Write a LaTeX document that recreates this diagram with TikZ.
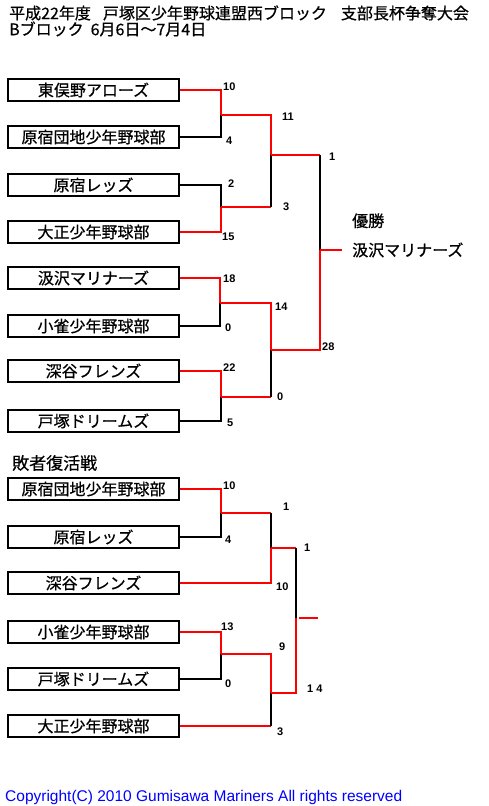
\documentclass[tikz,border=0pt]{standalone}
\usepackage{fontspec}
\usepackage{xcolor}
\setmainfont{Liberation Sans}
\newfontfamily\jpfont[FakeBold=0.6]{Noto Sans CJK JP}
\usetikzlibrary{positioning}

\tikzset{
  team/.style={draw, line width=1.6pt, minimum width=171pt, minimum height=22pt,
    inner sep=0pt, font=\jpfont\fontsize{16}{16}\selectfont},
  win/.style={draw=red, line width=1.8pt},
  lose/.style={draw=black, line width=1.8pt},
  score/.style={anchor=west, inner sep=0pt, font=\bfseries\fontsize{11}{11}\selectfont},
  heading/.style={anchor=west, inner sep=0pt, font=\jpfont\fontsize{16}{16}\selectfont},
}

\begin{document}
\begin{tikzpicture}[x=1pt, y=-1pt]
        \useasboundingbox (0,0) rectangle (489,806);
        \node[heading] (title) at (9,13) {平成22年度\hspace{12pt}戸塚区少年野球連盟西ブロック\hspace{14pt}支部長杯争奪大会};
        \node[heading] (dates) at (9,29) {Bブロック\hspace{7pt}6月6日～7月4日};
%
        \node[team] (A1) at (93.5,90) {東俣野アローズ};
        \node[team] (A2) at (93.5,137) {原宿団地少年野球部};
        \node[team] (A3) at (93.5,185) {原宿レッズ};
        \node[team] (A4) at (93.5,232) {大正少年野球部};
        \node[team] (A5) at (93.5,278) {汲沢マリナーズ};
        \node[team] (A6) at (93.5,326) {小雀少年野球部};
        \node[team] (A7) at (93.5,371) {深谷フレンズ};
        \node[team] (A8) at (93.5,421) {戸塚ドリームズ};
%
        \coordinate (j1) at (221,115);
        \coordinate (j2) at (221,207);
        \coordinate (j3) at (220,303);
        \coordinate (j4) at (221,397);
        \coordinate (k1) at (271,155);
        \coordinate (k2) at (271,350);
        \coordinate (f) at (320,250);
%
        \draw[win] (A1.east) -| (j1);
        \draw[lose] (A2.east) -| (j1);
        \draw[lose] (A3.east) -| (j2);
        \draw[win] (A4.east) -| (j2);
        \draw[win] (A5.east) -| (j3);
        \draw[lose] (A6.east) -| (j3);
        \draw[win] (A7.east) -| (j4);
        \draw[lose] (A8.east) -| (j4);
        \draw[win] (j1) -| (k1);
        \draw[win] (j2) -- (j2 -| k1);
        \draw[lose] (j2 -| k1) -- (k1);
        \draw[win] (j3) -| (k2);
        \draw[win] (j4) -- (j4 -| k2);
        \draw[lose] (j4 -| k2) -- (k2);
        \draw[win] (k1) -- (k1 -| f);
        \draw[lose] (k1 -| f) -- (f);
        \draw[win] (k2) -| (f);
%
        \node[anchor=west, inner sep=0pt, font=\jpfont\fontsize{16}{16}\selectfont] (champ) at (352,250) {汲沢マリナーズ};
        \node[inner sep=0pt, font=\jpfont\fontsize{16}{16}\selectfont, above=14pt of champ.north west, anchor=south west] (yusho) {優勝};
        \draw[win] (f) -- ([xshift=-10pt]champ.west);
%
        \node[score] (s1) at (223,87) {10};
        \node[score] (s2) at (226,141) {4};
        \node[score] (s3) at (228,184) {2};
        \node[score] (s4) at (222,237) {15};
        \node[score] (s5) at (223,279) {18};
        \node[score] (s6) at (225,328) {0};
        \node[score] (s7) at (223,368) {22};
        \node[score] (s8) at (227,423) {5};
        \node[score] (s9) at (282,117) {11};
        \node[score] (s10) at (283,207) {3};
        \node[score] (s11) at (275,307) {14};
        \node[score] (s12) at (277,397) {0};
        \node[score] (s13) at (329,157) {1};
        \node[score] (s14) at (322,347) {28};
%
        \node[heading, font=\jpfont\fontsize{17}{17}\selectfont] (haisha) at (12,463) {敗者復活戦};
        \node[team] (B1) at (93.5,489) {原宿団地少年野球部};
        \node[team] (B2) at (93.5,537) {原宿レッズ};
        \node[team] (B3) at (93.5,583) {深谷フレンズ};
        \node[team] (B4) at (93.5,632) {小雀少年野球部};
        \node[team] (B5) at (93.5,679) {戸塚ドリームズ};
        \node[team] (B6) at (93.5,726) {大正少年野球部};
%
        \coordinate (l1) at (221,513);
        \coordinate (l2) at (221,654);
        \coordinate (p1) at (271,548);
        \coordinate (p2) at (271,693);
        \coordinate (r) at (296,618);
        \coordinate (out) at (318,618);
%
        \draw[win] (B1.east) -| (l1);
        \draw[lose] (B2.east) -| (l1);
        \draw[win] (B3.east) -| (p1);
        \draw[win] (B4.east) -| (l2);
        \draw[lose] (B5.east) -| (l2);
        \draw[win] (B6.east) -- (B6.east -| p2);
        \draw[lose] (B6.east -| p2) -- (p2);
        \draw[win] (l1) -- (l1 -| p1);
        \draw[lose] (l1 -| p1) -- (p1);
        \draw[win] (l2) -| (p2);
        \draw[win] (p1) -- (p1 -| r);
        \draw[lose] (p1 -| r) -- (r);
        \draw[win] (p2) -| (r);
        \draw[win] ([xshift=3pt]r) -- (out);
%
        \node[score] (t1) at (223,486) {10};
        \node[score] (t2) at (225,540) {4};
        \node[score] (t3) at (283,507) {1};
        \node[score] (t4) at (276,587) {10};
        \node[score] (t5) at (304,548) {1};
        \node[score] (t6) at (307,689) {1 4};
        \node[score] (t7) at (221,627) {13};
        \node[score] (t8) at (225,684) {0};
        \node[score] (t9) at (279,647) {9};
        \node[score] (t10) at (277,732) {3};
%
        \node[anchor=west, inner sep=0pt, text=blue, font=\fontsize{15.5}{15.5}\selectfont] (copy) at (5,797) {Copyright(C) 2010 Gumisawa Mariners All rights reserved};
\end{tikzpicture}
\end{document}
